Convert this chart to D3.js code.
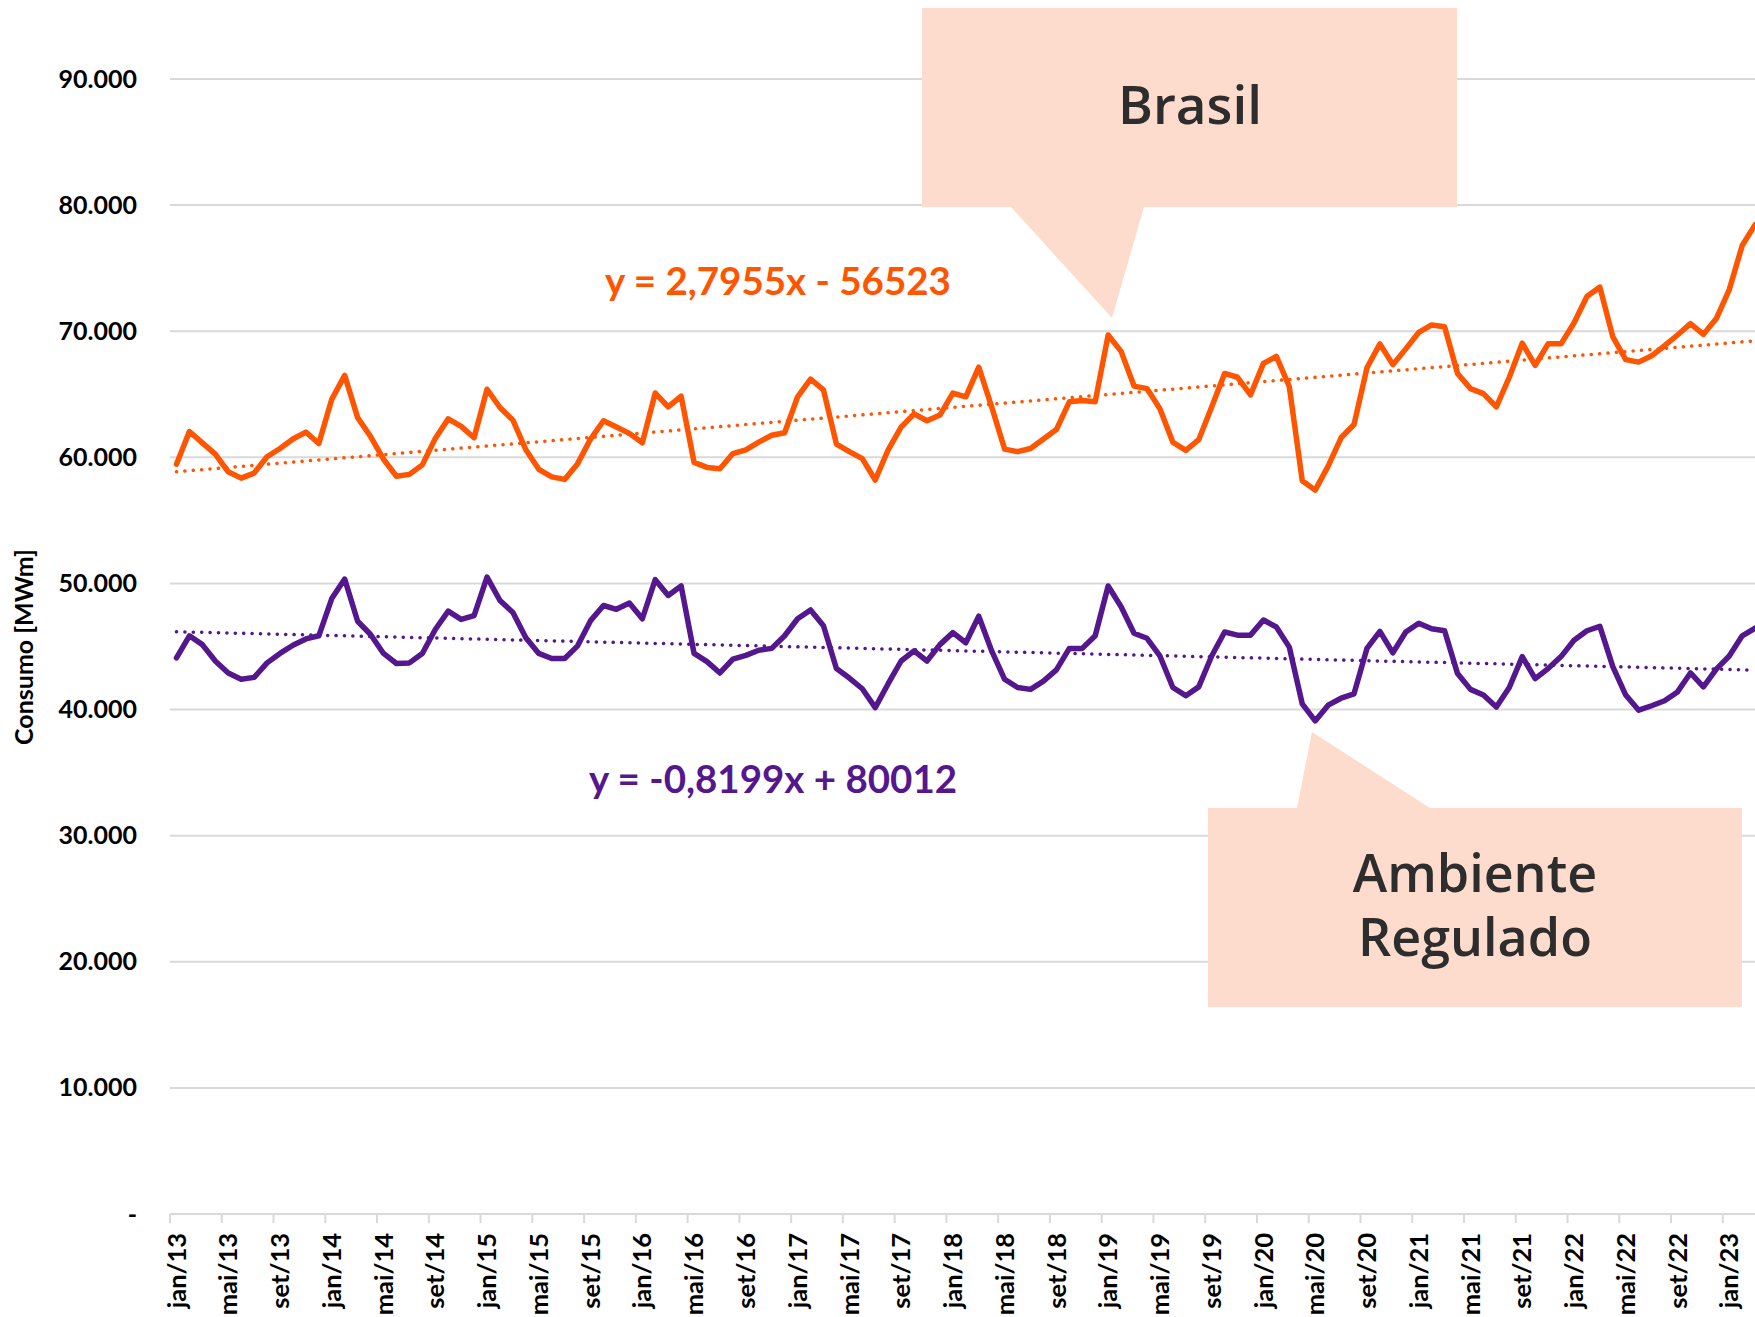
<!DOCTYPE html>
<html lang="pt-BR">
<head>
<meta charset="utf-8">
<script src="https://cdn.jsdelivr.net/npm/d3@7"></script>
<style>
  html, body { margin: 0; padding: 0; background: #ffffff; }
  svg { display: block; }
</style>
</head>
<body>
<svg id="chart" width="1755" height="1317"></svg>
<script>
// Consumo mensal de energia (MWm), jan/2013 – mar/2023
const monthNames = ["jan","fev","mar","abr","mai","jun","jul","ago","set","out","nov","dez"];
const startYear = 2013;
const monthCount = 123;

const brasil = [
  59450, 62050, 61150, 60250, 58850, 58350, 58750, 60050, 60700, 61450, 62000, 61100,
  64600, 66500, 63150, 61650, 59850, 58500, 58650, 59400, 61500, 63050, 62450, 61550,
  65400, 63950, 62950, 60600, 59050, 58450, 58250, 59500, 61450, 62900, 62400, 61900,
  61150, 65100, 64000, 64850, 59600, 59200, 59100, 60300, 60600, 61200, 61750, 61950,
  64800, 66200, 65350, 61050, 60450, 59900, 58200, 60600, 62400, 63450, 62900, 63350,
  65100, 64800, 67150, 64000, 60650, 60450, 60700, 61450, 62200, 64400, 64500, 64400,
  69700, 68400, 65650, 65450, 63850, 61200, 60550, 61400, 64000, 66650, 66350, 64950,
  67450, 68000, 65600, 58150, 57400, 59300, 61550, 62600, 67100, 69000, 67350, 68600,
  69900, 70500, 70350, 66650, 65450, 65050, 64000, 66350, 69050, 67300, 69000, 69000,
  70650, 72750, 73500, 69550, 67750, 67550, 68050, 68850, 69700, 70600, 69750, 71000,
  73300, 76800, 78450
];

const regulado = [
  44100, 45850, 45150, 43850, 42900, 42400, 42550, 43700, 44450, 45100, 45600, 45850,
  48800, 50350, 47000, 45950, 44450, 43650, 43700, 44450, 46350, 47800, 47150, 47450,
  50500, 48650, 47700, 45700, 44450, 44050, 44050, 45050, 47050, 48250, 47950, 48450,
  47200, 50300, 49050, 49800, 44450, 43800, 42900, 44000, 44300, 44700, 44850, 45850,
  47200, 47900, 46650, 43250, 42500, 41650, 40150, 42050, 43850, 44650, 43850, 45150,
  46100, 45300, 47400, 44650, 42400, 41750, 41600, 42250, 43150, 44850, 44850, 45850,
  49800, 48150, 46050, 45650, 44250, 41750, 41100, 41800, 44250, 46150, 45900, 45900,
  47100, 46550, 44950, 40450, 39100, 40350, 40900, 41250, 44850, 46200, 44500, 46150,
  46850, 46400, 46250, 42850, 41600, 41150, 40200, 41750, 44200, 42450, 43250, 44200,
  45500, 46250, 46600, 43400, 41150, 39950, 40300, 40700, 41400, 42900, 41800, 43200,
  44250, 45850, 46450
];

// Linear trend equations (x = Excel date serial)
const trendBrasil = { slope: 2.7955, intercept: -56523, label: "y = 2,7955x - 56523" };
const trendRegulado = { slope: -0.8199, intercept: 80012, label: "y = -0,8199x + 80012" };

const yTicks = [0, 10000, 20000, 30000, 40000, 50000, 60000, 70000, 80000, 90000];
const labelEvery = 4;

const colorBrasil = "#ff5500";
const colorRegulado = "#54178d";
const calloutFill = "#fddccd";
const calloutText = "#2d2d2d";

// ----- derived categories -----
const months = d3.range(monthCount).map(i => {
  const y = startYear + Math.floor(i / 12), m = i % 12;
  return {
    i, year: y, month: m,
    label: monthNames[m] + "/" + String(y).slice(2),
    serial: (Date.UTC(y, m, 1) - Date.UTC(1899, 11, 30)) / 86400000
  };
});

const svg = d3.select("#chart");
const left = 170, baseY = 1214, topY = 79;
const step = 12.94;
const right = left + step * monthCount;

const x = d3.scaleBand().domain(months.map(d => d.label)).range([left, right]).paddingInner(0).paddingOuter(0);
const xc = lbl => x(lbl) + x.bandwidth() / 2;
const y = d3.scaleLinear().domain([0, 90000]).range([baseY, topY]);

const ptLocale = d3.formatLocale({ decimal: ",", thousands: ".", grouping: [3], currency: ["R$", ""] });
const fmt = ptLocale.format(",.0f");

svg.append("rect").attr("width", 1755).attr("height", 1317).attr("fill", "#ffffff");

// Horizontal gridlines
svg.append("g")
  .selectAll("line")
  .data(yTicks)
  .join("line")
  .attr("x1", left).attr("x2", right)
  .attr("y1", d => y(d)).attr("y2", d => y(d))
  .attr("stroke", "#d9d9d9").attr("stroke-width", 2);

// Y axis labels
const yAxis = d3.axisLeft(y).tickValues(yTicks).tickSize(0).tickPadding(33)
  .tickFormat(d => d === 0 ? "-" : fmt(d));
const gy = svg.append("g").attr("transform", `translate(${left},0)`).call(yAxis);
gy.select(".domain").remove();
gy.selectAll("text")
  .attr("font-family", "Lato, 'Noto Sans', sans-serif")
  .attr("font-weight", 700)
  .attr("font-size", 25)
  .attr("fill", "#000");

// Y axis title
svg.append("text")
  .attr("transform", "translate(33,647) rotate(-90)")
  .attr("text-anchor", "middle")
  .attr("font-family", "Lato, 'Noto Sans', sans-serif")
  .attr("font-weight", 700)
  .attr("font-size", 25)
  .attr("fill", "#000")
  .text("Consumo [MWm]");

// X tick marks at category boundaries, every 4 months
const tickMonths = months.filter(d => d.i % labelEvery === 0);
svg.append("g")
  .selectAll("line")
  .data(tickMonths)
  .join("line")
  .attr("x1", d => x(d.label)).attr("x2", d => x(d.label))
  .attr("y1", baseY).attr("y2", baseY + 9)
  .attr("stroke", "#d9d9d9").attr("stroke-width", 2);

// X labels
svg.append("g")
  .selectAll("text")
  .data(tickMonths)
  .join("text")
  .attr("transform", d => `translate(${xc(d.label)},${baseY + 19}) rotate(-90)`)
  .attr("text-anchor", "end")
  .attr("dy", "0.36em")
  .attr("font-family", "Lato, 'Noto Sans', sans-serif")
  .attr("font-weight", 700)
  .attr("font-size", 25.5)
  .attr("fill", "#000")
  .text(d => d.label);

// Series lines
const line = d3.line().x(d => xc(d.m.label)).y(d => y(d.v));
const seriesData = vals => vals.map((v, i) => ({ m: months[i], v }));

svg.append("path")
  .datum(seriesData(brasil))
  .attr("d", line)
  .attr("fill", "none").attr("stroke", colorBrasil)
  .attr("stroke-width", 5.5).attr("stroke-linejoin", "round").attr("stroke-linecap", "round");

svg.append("path")
  .datum(seriesData(regulado))
  .attr("d", line)
  .attr("fill", "none").attr("stroke", colorRegulado)
  .attr("stroke-width", 5.5).attr("stroke-linejoin", "round").attr("stroke-linecap", "round");

// Trend lines (dotted)
const trendLine = d3.line().x(d => xc(d.label)).y(d => d.t);
function drawTrend(tr, color) {
  const pts = months.slice(0, brasil.length).map(m => ({ label: m.label, t: y(tr.slope * m.serial + tr.intercept) }));
  svg.append("path")
    .datum(pts)
    .attr("d", trendLine)
    .attr("fill", "none").attr("stroke", color)
    .attr("stroke-width", 3.5).attr("stroke-linecap", "round")
    .attr("stroke-dasharray", "0.1 8.3");
}
drawTrend(trendBrasil, colorBrasil);
drawTrend(trendRegulado, colorRegulado);

// Trend equations
svg.append("text")
  .attr("x", 778).attr("y", 295)
  .attr("text-anchor", "middle")
  .attr("font-family", "Lato, 'Noto Sans', sans-serif")
  .attr("font-weight", 700).attr("font-size", 38.5)
  .attr("fill", colorBrasil)
  .text(trendBrasil.label);

svg.append("text")
  .attr("x", 773).attr("y", 793)
  .attr("text-anchor", "middle")
  .attr("font-family", "Lato, 'Noto Sans', sans-serif")
  .attr("font-weight", 700).attr("font-size", 38.5)
  .attr("fill", colorRegulado)
  .text(trendRegulado.label);

// Callouts
svg.append("path")
  .attr("d", "M922,8 H1457 V207 H1144 L1112,318 L1011,207 H922 Z")
  .attr("fill", calloutFill);
svg.append("text")
  .attr("x", 1190).attr("y", 124)
  .attr("text-anchor", "middle")
  .attr("font-family", "'Open Sans', 'Noto Sans', sans-serif")
  .attr("font-weight", 600).attr("font-size", 53)
  .attr("fill", calloutText)
  .text("Brasil");

svg.append("path")
  .attr("d", "M1208,808 H1297 L1312,732 L1430,808 H1742 V1007 H1208 Z")
  .attr("fill", calloutFill);
const amb = svg.append("text")
  .attr("text-anchor", "middle")
  .attr("font-family", "'Open Sans', 'Noto Sans', sans-serif")
  .attr("font-weight", 600).attr("font-size", 52)
  .attr("fill", calloutText);
amb.append("tspan").attr("x", 1475).attr("y", 892).text("Ambiente");
amb.append("tspan").attr("x", 1475).attr("y", 956).text("Regulado");
</script>
</body>
</html>
